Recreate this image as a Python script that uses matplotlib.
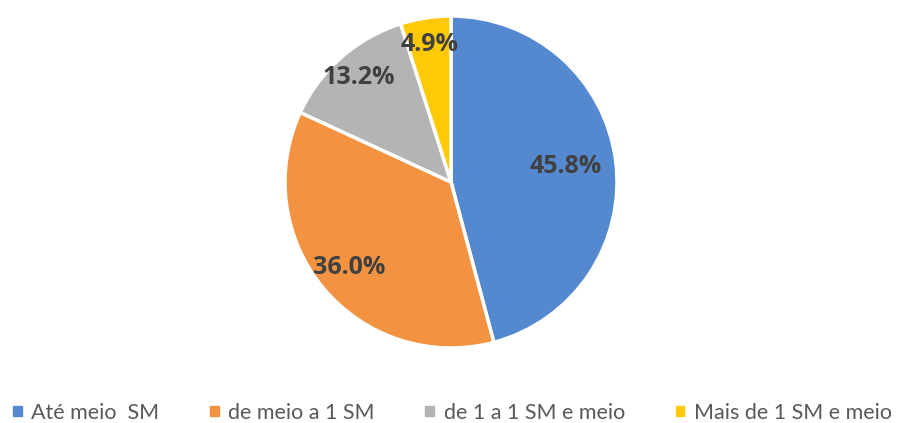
import numpy as np
import matplotlib.pyplot as plt

# dados
categorias = ['Até meio  SM', 'de meio a 1 SM', 'de 1 a 1 SM e meio', 'Mais de 1 SM e meio']
valores = [45.8, 36.0, 13.2, 4.9]
rotulos = ['45.8%', '36.0%', '13.2%', '4.9%']
cores = ['#5589CF', '#F39341', '#B4B4B4', '#FFCA05']

plt.rcParams['font.family'] = ['Lato', 'DejaVu Sans']

W, H = 905, 423
fig = plt.figure(figsize=(W / 100, H / 100), dpi=100)

# pie centre (451,182) px, radius 166 px
cx, cy, r = 451, 182, 166
ax = fig.add_axes([(cx - r) / W, (H - cy - r) / H, 2 * r / W, 2 * r / H])

wedges, _ = ax.pie(valores, colors=cores, startangle=90, counterclock=False,
                   radius=1.0, wedgeprops=dict(edgecolor='white', linewidth=2.5))
ax.set_xlim(-1, 1)
ax.set_ylim(-1, 1)
ax.set_aspect('equal')
ax.axis('off')

# label distance per slice
dist = [0.70, 0.80, 0.84, 0.84]
for w, lab, d in zip(wedges, rotulos, dist):
    ang = np.deg2rad((w.theta1 + w.theta2) / 2)
    ax.text(d * np.cos(ang), d * np.sin(ang), lab, ha='center', va='center',
            fontsize=18, fontweight='bold', color='#404040',
            family=['Open Sans', 'DejaVu Sans'])

handles = [plt.Rectangle((0, 0), 1, 1, color=c) for c in cores]
fig.legend(handles, categorias, loc='lower center', ncol=4, frameon=False,
           bbox_to_anchor=(0.5, -0.045), fontsize=15.5, handlelength=0.4,
           handleheight=0.4, handletextpad=0.45, columnspacing=2.35,
           labelcolor='#595959')

fig.savefig('out.png', dpi=100)
